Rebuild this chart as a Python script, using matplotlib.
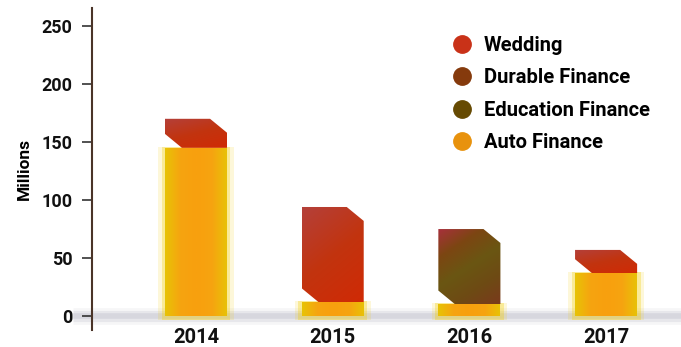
import numpy as np
import matplotlib.pyplot as plt
from matplotlib.patches import Polygon, Rectangle
from matplotlib.colors import LinearSegmentedColormap
from matplotlib.lines import Line2D

plt.rcParams['font.family'] = ['Roboto', 'DejaVu Sans']

# data (millions)
years = ["2014", "2015", "2016", "2017"]
auto_finance = [145, 12, 10, 37]
wedding = [25, 82, 0, 20]
durable_finance = [0, 0, 0, 0]
education_finance = [0, 0, 65, 0]

series_names = ["Wedding", "Durable Finance", "Education Finance", "Auto Finance"]
series_colors = ["#c93218", "#853a0c", "#664a02", "#e8920d"]

# gradient colours for the box segments (top-left -> bottom-right)
box_grads = {
    "Wedding": ["#b4403a", "#c2340f", "#d02a05"],
    "Durable Finance": ["#9a4418", "#8a3a10", "#7a300c"],
    "Education Finance": ["#a8303c", "#7c4612", "#6a5612", "#6e4a14", "#7a3a1c"],
}

fig = plt.figure(figsize=(6.81, 3.47), dpi=100)
ax = fig.add_axes([0.135, 0.049, 0.865, 0.928])

x = np.arange(len(years))
width = 0.454
cx, cy = 0.124, 12  # chamfer size

# grey blurred baseline
for lw, a in [(12, 0.10), (8, 0.18), (4, 0.25)]:
    ax.plot([-0.9, 3.6], [0, 0], color="#a8a8b8", lw=lw, alpha=a,
            solid_capstyle="butt", zorder=1, clip_on=False)


def gradient_fill(ax, pts, colors, zorder, mode="diag"):
    pts = np.asarray(pts, dtype=float)
    patch = Polygon(pts, closed=True, facecolor="none", lw=0, zorder=zorder)
    ax.add_patch(patch)
    gx, gy = np.meshgrid(np.linspace(0, 1, 60), np.linspace(0, 1, 60))
    if mode == "horizontal":
        g = np.abs(gx - 0.5) * 2
    else:
        g = 0.35 * gx + 0.65 * gy
    cmap = LinearSegmentedColormap.from_list("g", colors)
    # row 0 of the image sits at the top of the extent
    im = ax.imshow(g, extent=(pts[:, 0].min(), pts[:, 0].max(),
                              pts[:, 1].min(), pts[:, 1].max()),
                   origin="upper", cmap=cmap, aspect="auto",
                   interpolation="bilinear", zorder=zorder)
    im.set_clip_path(patch)


for i in range(len(years)):
    # auto finance: glowing orange column
    h = auto_finance[i]
    left = x[i] - width / 2
    right = left + width
    for pad, a in [(0.05, 0.15), (0.025, 0.3)]:
        ax.add_patch(Rectangle((left - pad, -3), width + 2 * pad, h + 4,
                               facecolor="#f2cc00", alpha=a, lw=0, zorder=2))
    gradient_fill(ax, [(left, 0), (right, 0), (right, h), (left, h)],
                  ["#f8a00e", "#f6a410", "#e8c206"], 3, mode="horizontal")

    # stacked box segments with chamfered corners
    bottom = h
    for name, vals in [("Durable Finance", durable_finance),
                       ("Education Finance", education_finance),
                       ("Wedding", wedding)]:
        v = vals[i]
        if v <= 0:
            continue
        top = bottom + v
        pts = [(left, top), (right - cx, top), (right, top - cy),
               (right, bottom), (left + cx, bottom), (left, bottom + cy)]
        gradient_fill(ax, pts, box_grads[name], 4)
        bottom = top

ax.set_xlim(-0.761, 3.548)
ax.set_ylim(-12, 265.5)
ax.set_xticks(x)
ax.set_xticklabels(years, fontsize=14.5, fontweight="bold", color="#111111")
ax.tick_params(axis="x", length=0, pad=-1.5)
ax.set_yticks([0, 50, 100, 150, 200, 250])
ax.tick_params(axis="y", length=7, width=1.2, color="#333333", pad=7,
               labelsize=13)
for t in ax.get_yticklabels():
    t.set_fontweight("bold")
    t.set_color("#111111")
ax.set_ylabel("Millions", fontsize=12.5, fontweight="bold", labelpad=7)

for s in ["top", "right", "bottom"]:
    ax.spines[s].set_visible(False)
ax.spines["left"].set_color("#4a3428")
ax.spines["left"].set_linewidth(1.5)

handles = [Line2D([0], [0], marker="o", ls="", markersize=12.5,
                  markerfacecolor=c, markeredgecolor=c) for c in series_colors]
leg = ax.legend(handles, series_names, loc="upper left",
                bbox_to_anchor=(0.578, 0.969), frameon=False,
                prop={"size": 14.5, "weight": "bold"}, labelspacing=0.66,
                handletextpad=0.5, handlelength=1.15)

fig.savefig("out.png", dpi=100)
